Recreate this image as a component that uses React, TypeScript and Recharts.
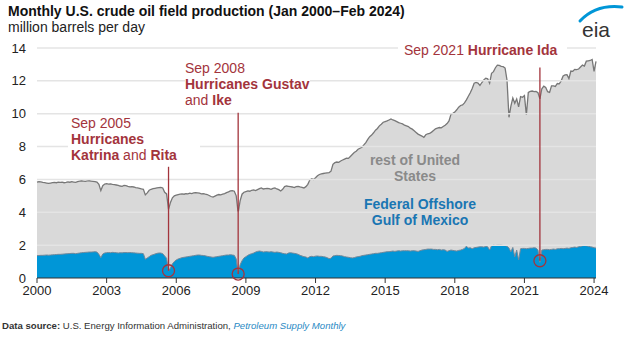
import { AreaChart, Area, XAxis, YAxis, ReferenceLine, ReferenceDot } from "recharts"

// monthly, Jan 2000 – Feb 2024, million barrels per day
const startYear = 2000

const usTotal = [
  5.84, 5.86, 5.85, 5.82, 5.8, 5.78, 5.76, 5.78, 5.8, 5.82, 5.8, 5.83,
  5.82, 5.84, 5.8, 5.82, 5.85, 5.83, 5.86, 5.84, 5.82, 5.86, 5.9, 5.92,
  5.9, 5.88, 5.91, 5.92, 5.9, 5.88, 5.86, 5.84, 5.7, 5.32, 5.62, 5.72,
  5.74, 5.72, 5.73, 5.7, 5.68, 5.66, 5.64, 5.6, 5.58, 5.63, 5.62, 5.58,
  5.55, 5.56, 5.54, 5.5, 5.48, 5.46, 5.42, 5.4, 5.06, 5.18, 5.34, 5.4,
  5.44, 5.46, 5.48, 5.5, 5.52, 5.48, 5.22, 5.12, 4.18, 4.6, 4.88, 5.0,
  5.04, 5.08, 5.1, 5.12, 5.1, 5.14, 5.12, 5.16, 5.14, 5.18, 5.2, 5.18,
  5.16, 5.12, 5.14, 5.1, 5.08, 5.02, 4.96, 4.92, 4.98, 5.04, 5.08, 5.06,
  5.1, 5.14, 5.2, 5.24, 5.3, 5.32, 5.28, 5.0, 3.98, 4.7, 5.1, 5.22,
  5.26, 5.3, 5.28, 5.34, 5.36, 5.32, 5.38, 5.44, 5.48, 5.42, 5.44, 5.46,
  5.44, 5.4, 5.46, 5.48, 5.42, 5.38, 5.3, 5.4, 5.56, 5.6, 5.58, 5.56,
  5.54, 5.5, 5.56, 5.58, 5.54, 5.52, 5.48, 5.56, 5.7, 5.96, 6.04, 6.0,
  6.1, 6.22, 6.3, 6.34, 6.36, 6.38, 6.4, 6.42, 6.5, 6.92, 7.02, 7.06,
  7.04, 7.12, 7.18, 7.24, 7.3, 7.28, 7.4, 7.52, 7.64, 7.72, 7.84, 7.9,
  7.96, 8.1, 8.24, 8.44, 8.6, 8.7, 8.84, 9.0, 9.1, 9.26, 9.36, 9.48,
  9.52, 9.56, 9.62, 9.68, 9.62, 9.58, 9.52, 9.46, 9.42, 9.38, 9.3, 9.26,
  9.22, 9.12, 9.06, 8.96, 8.86, 8.76, 8.7, 8.64, 8.56, 8.72, 8.78, 8.8,
  8.88, 8.98, 9.08, 9.12, 9.16, 9.14, 9.22, 9.3, 9.4, 9.56, 9.96, 10.02,
  10.1, 10.24, 10.4, 10.5, 10.54, 10.66, 10.84, 11.06, 11.28, 11.54, 11.86, 11.9,
  11.86, 11.72, 11.9, 12.06, 12.16, 12.12, 11.86, 12.46, 12.56, 12.8, 12.96, 12.94,
  12.88, 12.86, 12.78, 12.04, 9.78, 10.46, 10.96, 10.64, 10.9, 10.42, 11.04, 11.0,
  11.1, 9.92, 11.3, 11.36, 11.38, 11.34, 11.36, 11.28, 10.9, 11.52, 11.68, 11.6,
  11.34, 11.3, 11.7, 11.7, 11.66, 11.84, 11.82, 12.0, 12.3, 12.36, 12.38, 12.14,
  12.6, 12.58, 12.7, 12.68, 12.72, 12.84, 12.96, 12.9, 13.2, 13.22, 13.24, 13.3,
  12.58, 13.18,
]

const gulfOfMexico = [
  1.36, 1.37, 1.38, 1.38, 1.39, 1.4, 1.39, 1.4, 1.41, 1.42, 1.43, 1.44,
  1.44, 1.45, 1.46, 1.47, 1.48, 1.49, 1.5, 1.5, 1.48, 1.5, 1.52, 1.54,
  1.55, 1.56, 1.57, 1.58, 1.58, 1.59, 1.6, 1.58, 1.44, 1.24, 1.46, 1.52,
  1.54, 1.55, 1.54, 1.56, 1.55, 1.54, 1.52, 1.54, 1.53, 1.55, 1.55, 1.54,
  1.55, 1.54, 1.53, 1.52, 1.51, 1.5, 1.5, 1.48, 1.14, 1.22, 1.3, 1.38,
  1.42, 1.46, 1.5, 1.52, 1.52, 1.48, 1.34, 1.2, 0.42, 0.62, 0.86, 1.0,
  1.1, 1.16, 1.2, 1.24, 1.26, 1.28, 1.3, 1.32, 1.34, 1.36, 1.38, 1.4,
  1.4, 1.38, 1.37, 1.35, 1.32, 1.3, 1.28, 1.26, 1.28, 1.3, 1.32, 1.34,
  1.36, 1.38, 1.4, 1.4, 1.42, 1.4, 1.38, 1.16, 0.25, 0.8, 1.05, 1.22,
  1.3, 1.38, 1.44, 1.48, 1.52, 1.58, 1.62, 1.64, 1.62, 1.58, 1.6, 1.6,
  1.58, 1.6, 1.58, 1.56, 1.58, 1.56, 1.54, 1.5, 1.48, 1.46, 1.52, 1.54,
  1.52, 1.5, 1.48, 1.44, 1.38, 1.34, 1.3, 1.28, 1.22, 1.3, 1.32, 1.3,
  1.33, 1.34, 1.32, 1.32, 1.3, 1.28, 1.24, 1.18, 1.2, 1.34, 1.36, 1.38,
  1.37, 1.36, 1.34, 1.3, 1.28, 1.26, 1.24, 1.22, 1.24, 1.28, 1.3, 1.32,
  1.36, 1.38, 1.4, 1.42, 1.44, 1.46, 1.48, 1.5, 1.5, 1.52, 1.54, 1.56,
  1.58, 1.6, 1.6, 1.62, 1.64, 1.62, 1.64, 1.66, 1.64, 1.66, 1.66, 1.66,
  1.66, 1.64, 1.66, 1.66, 1.64, 1.62, 1.66, 1.7, 1.72, 1.74, 1.76, 1.76,
  1.76, 1.74, 1.74, 1.72, 1.74, 1.7, 1.72, 1.7, 1.62, 1.66, 1.7, 1.68,
  1.66, 1.64, 1.68, 1.7, 1.74, 1.8, 1.94, 1.82, 1.84, 1.78, 1.84, 1.86,
  1.88, 1.9, 1.9, 1.88, 1.92, 1.9, 1.7, 1.96, 2.0, 1.98, 2.0, 2.0,
  2.0, 1.98, 1.98, 1.94, 1.82, 1.6, 1.86, 1.3, 1.7, 1.1, 1.78, 1.8,
  1.8, 1.78, 1.8, 1.82, 1.82, 1.84, 1.82, 1.7, 0.95, 1.7, 1.72, 1.74,
  1.74, 1.72, 1.74, 1.76, 1.74, 1.78, 1.78, 1.8, 1.78, 1.8, 1.82, 1.8,
  1.84, 1.86, 1.88, 1.86, 1.9, 1.92, 1.96, 1.98, 1.96, 1.94, 1.9, 1.88,
  1.84, 1.82,
]

const yearTicks = [2000, 2003, 2006, 2009, 2012, 2015, 2018, 2021, 2024]
const valueTicks = [0, 2, 4, 6, 8, 10, 12, 14]

// hurricane markers: month (as fractional year), top of the pointer, circle value
const hurricaneMarks = [
  { t: 2005 + 8 / 12, top: 6.77, dip: 0.44 },
  { t: 2008 + 8 / 12, top: 10.06, dip: 0.24 },
  { t: 2021 + 8 / 12, top: 12.82, dip: 1.05 },
]

const data = usTotal.map((v, i) => ({
  t: startYear + i / 12,
  total: v,
  gulf: gulfOfMexico[i],
}))

const font = "'Liberation Sans', Arial, sans-serif"
const red = "#a3343c"

export default function App() {
  return (
    <div style={{ position: "absolute", left: 0, top: 0, width: 624, height: 340, background: "#fff", fontFamily: font, overflow: "hidden" }}>
      <AreaChart width={624} height={340} data={data} margin={{ top: 48, right: 28, bottom: 42, left: 0 }}>
        <XAxis
          dataKey="t"
          type="number"
          domain={[2000, 2024 + 1 / 12]}
          ticks={yearTicks}
          tickFormatter={(v) => String(Math.round(v))}
          stroke="#333"
          tick={{ fill: "#222", fontSize: 13, fontFamily: font }}
          tickSize={5}
          tickMargin={3}
          height={20}
        />
        <YAxis
          type="number"
          domain={[0, 14]}
          ticks={valueTicks}
          axisLine={false}
          tickLine={false}
          tickSize={0}
          tickMargin={11}
          width={37}
          tick={{ fill: "#222", fontSize: 13, fontFamily: font }}
        />
        <Area type="linear" dataKey="total" stroke="#777" strokeWidth={1.3} fill="#d9d9d9" fillOpacity={1} dot={false} activeDot={false} isAnimationActive={false} />
        <Area type="linear" dataKey="gulf" stroke="#72889a" strokeWidth={1} fill="#0096d7" fillOpacity={1} dot={false} activeDot={false} isAnimationActive={false} />
        {valueTicks.slice(1).map((v) => (
          <ReferenceLine key={v} y={v} stroke="#e4e4e4" strokeWidth={1.5} />
        ))}
        {hurricaneMarks.map((m) => (
          <ReferenceLine
            key={"l" + m.t}
            segment={[{ x: m.t, y: m.dip }, { x: m.t, y: m.top }]}
            stroke={red}
            strokeWidth={1.3}
          />
        ))}
        {hurricaneMarks.map((m) => (
          <ReferenceDot key={"d" + m.t} x={m.t} y={m.dip} r={6} fill="none" stroke={red} strokeWidth={1.3} />
        ))}
      </AreaChart>

      <div style={{ position: "absolute", left: 8, top: 3, fontSize: 14, lineHeight: "16px", fontWeight: "bold", color: "#111", whiteSpace: "nowrap" }}>
        Monthly U.S. crude oil field production (Jan 2000–Feb 2024)
      </div>
      <div style={{ position: "absolute", left: 8, top: 19, fontSize: 14, lineHeight: "16px", color: "#222", whiteSpace: "nowrap" }}>
        million barrels per day
      </div>

      <svg style={{ position: "absolute", left: 570, top: 0 }} width={54} height={44}>
        <path d="M10 21 Q26 4 52 7" fill="none" stroke="#0096d7" strokeWidth={3} strokeLinecap="round" />
        <text x={12} y={37} fontSize={21} fontFamily={font} fill="#333">eia</text>
      </svg>

      <div style={{ position: "absolute", left: 68, top: 115, width: 129, paddingLeft: 3, fontSize: 14, lineHeight: "16.2px", color: red, background: "#fff", whiteSpace: "nowrap" }}>
        Sep 2005
        <br />
        <b>Hurricanes</b>
        <br />
        <b>Katrina</b> and <b>Rita</b>
      </div>
      <div style={{ position: "absolute", left: 185, top: 60, fontSize: 14, lineHeight: "16px", color: red, background: "#fff", whiteSpace: "nowrap" }}>
        Sep 2008
        <br />
        <b>Hurricanes Gustav</b>
        <br />
        and <b>Ike</b>
      </div>
      <div style={{ position: "absolute", left: 398, top: 42, padding: "0 10px 0 6px", fontSize: 14, lineHeight: "16px", color: red, background: "#fff", whiteSpace: "nowrap" }}>
        Sep 2021 <b>Hurricane Ida</b>
      </div>

      <div style={{ position: "absolute", left: 355, top: 152, width: 120, textAlign: "center", fontSize: 14, lineHeight: "16px", fontWeight: "bold", color: "#8a8a8a" }}>
        rest of United
        <br />
        States
      </div>
      <div style={{ position: "absolute", left: 350, top: 196, width: 140, textAlign: "center", fontSize: 14, lineHeight: "16px", fontWeight: "bold", color: "#1a76b3" }}>
        Federal Offshore
        <br />
        Gulf of Mexico
      </div>

      <div style={{ position: "absolute", left: 2, top: 320, fontSize: 9.6, lineHeight: "12px", color: "#333", whiteSpace: "nowrap" }}>
        <b>Data source:</b> U.S. Energy Information Administration, <i style={{ color: "#2a8ac4" }}>Petroleum Supply Monthly</i>
      </div>
    </div>
  )
}
